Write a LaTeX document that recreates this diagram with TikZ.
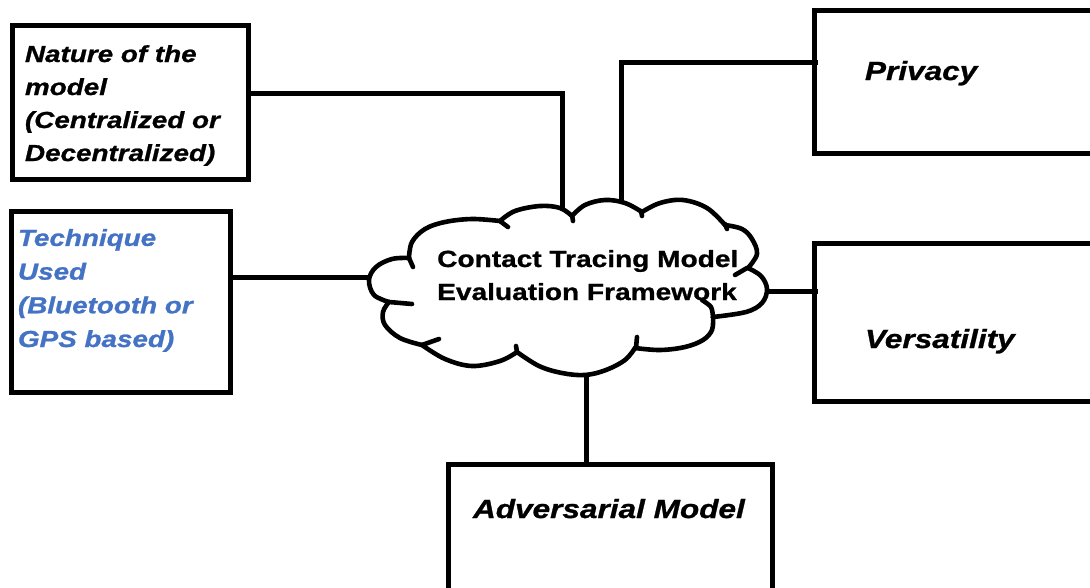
\documentclass[tikz,border=0pt]{standalone}
\usepackage{fontspec}
\setmainfont{Liberation Sans}[FakeStretch=1.2,BoldFeatures={FakeBold=1},BoldItalicFeatures={FakeBold=1}]
\definecolor{techblue}{RGB}{68,114,196}
\begin{document}
\begin{tikzpicture}[x=1pt,y=-1pt,
  box/.style={draw,line width=5pt,rectangle,inner sep=0pt,outer sep=0pt},
  conn/.style={draw,line width=5pt},
  cloudline/.style={line width=4.6pt,line cap=round,line join=round},
  lbl/.style={anchor=base west,inner sep=0pt,outer sep=0pt,align=left,font=\fontsize{23.2}{33}\selectfont\bfseries\itshape},
  big/.style={anchor=base west,inner sep=0pt,outer sep=0pt,font=\fontsize{26.3}{33}\selectfont\bfseries\itshape}]
\useasboundingbox (0,0) rectangle (1090,587);
\fill[white] (0,0) rectangle (1090,587);
\clip (0,0) rectangle (1090,587);
% boxes
\node[box,minimum width=236pt,minimum height=154pt] (nat) at (130,102) {};
\node[box,minimum width=219pt,minimum height=181pt] (tech) at (120.5,301.5) {};
\node[box,minimum width=286pt,minimum height=143pt] (priv) at (957,81.5) {};
\node[box,minimum width=286pt,minimum height=158pt] (vers) at (957,322) {};
\node[box,minimum width=324pt,minimum height=136pt] (adv) at (610,532) {};
% cloud outline
\draw[cloudline] plot[smooth,tension=0.6] coordinates {(409,258) (412,242) (425,229) (445,222) (472,219) (500,221)};
\draw[cloudline] plot[smooth,tension=0.6] coordinates {(500,221) (515,211) (540,206) (560,208) (572,216)};
\draw[cloudline] plot[smooth,tension=0.6] coordinates {(572,216) (585,205) (605,200) (625,203) (642,212)};
\draw[cloudline] plot[smooth,tension=0.6] coordinates {(642,212) (660,203) (683,200) (707,208) (725,225)};
\draw[cloudline] plot[smooth,tension=0.6] coordinates {(725,225) (742,229) (752,239) (757,254) (748,268)};
\draw[cloudline] plot[smooth,tension=0.6] coordinates {(748,268) (761,276) (767,289) (762,303) (746,312) (713,317)};
\draw[cloudline] plot[smooth,tension=0.6] coordinates {(713,317) (712,330) (703,340) (685,347) (660,350) (635,348)};
\draw[cloudline] plot[smooth,tension=0.6] coordinates {(635,348) (625,360) (606,370) (585,375) (562,373) (539,366) (517,352)};
\draw[cloudline] plot[smooth,tension=0.6] coordinates {(517,352) (500,361) (472,366) (445,359) (422,345)};
\draw[cloudline] plot[smooth,tension=0.6] coordinates {(422,345) (400,338) (385,325) (383,312) (389,302)};
\draw[cloudline] plot[smooth,tension=0.6] coordinates {(389,302) (374,295) (369,280) (376,267) (392,259) (409,258)};
% cloud inner ticks
\draw[cloudline] (409,258) -- (413,267);
\draw[cloudline] (500,221) -- (508,227);
\draw[cloudline] (572,215) -- (573,221);
\draw[cloudline] (641,211) -- (642,216);
\draw[cloudline] (725,224) -- (727,229);
\draw[cloudline] (747,268) -- (735,275);
\draw[cloudline] plot[smooth] coordinates {(713,317) (711,307) (702,300)};
\draw[cloudline] (636,348) -- (637,337);
\draw[cloudline] (517,352) -- (516,346);
\draw[cloudline] (422,345) -- (439,339);
\draw[cloudline] (389,302) -- (412,304);
% cloud connection points
\coordinate (cN) at (562,210);
\coordinate (cNE) at (621,203);
\coordinate (cW) at (371,277);
\coordinate (cE) at (765,291);
\coordinate (cS) at (586,373);
% texts
\node[anchor=base west,inner sep=0pt,align=left,font=\fontsize{23.4}{33}\selectfont\bfseries] (cloud) at (437,300)
  {Contact Tracing Model\\Evaluation Framework};
\node[lbl] (ntxt) at (25,161) {Nature of the\\model\\(Centralized or\\Decentralized)};
\node[lbl,text=techblue,font=\fontsize{23.2}{33.7}\selectfont\bfseries\itshape] (ttxt) at (18,347) {Technique\\Used\\(Bluetooth or\\GPS based)};
\node[big] (ptxt) at (865,80) {Privacy};
\node[big] (vtxt) at (865,348) {Versatility};
\node[big] (atxt) at (473,518) {Adversarial Model};
% connectors
\draw[conn] ([yshift=9pt]nat.east) -| (cN);
\draw[conn] ([yshift=19.5pt,xshift=4pt]priv.west) -| (cNE);
\draw[conn] ([yshift=24.5pt]tech.east) -- (cW);
\draw[conn] (cE) -- ([xshift=4pt]cE -| vers.west);
\draw[conn] (cS) -- (cS |- adv.north);
\end{tikzpicture}
\end{document}
